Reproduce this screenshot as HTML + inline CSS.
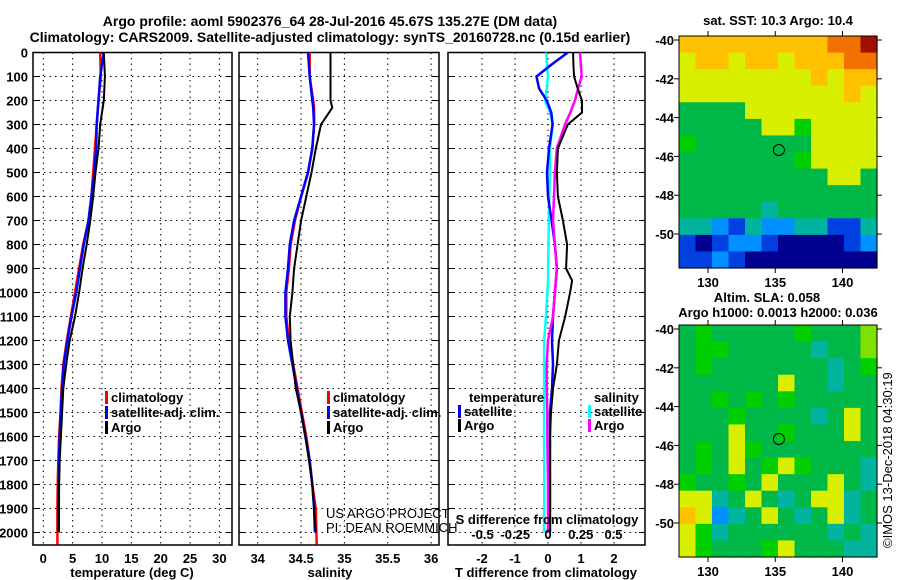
<!DOCTYPE html>
<html><head><meta charset="utf-8">
<style>
body{margin:0;background:#fff;}
svg{display:block;font-family:"Liberation Sans",sans-serif;}
.t{font-weight:bold;font-size:13px;}
.tt{font-weight:bold;font-size:14px;}
</style></head>
<body>
<svg id="c" width="900" height="580" viewBox="0 0 900 580">
<text class="tt" x="330" y="26" text-anchor="middle">Argo profile: aoml 5902376_64 28-Jul-2016 45.67S 135.27E (DM data)</text>
<text class="tt" x="330" y="42" text-anchor="middle">Climatology: CARS2009. Satellite-adjusted climatology: synTS_20160728.nc (0.15d earlier)</text>
<text class="t" x="778" y="25" text-anchor="middle">sat. SST: 10.3 Argo: 10.4</text>
<text class="t" x="767" y="302" text-anchor="middle">Altim. SLA: 0.058</text>
<text class="t" x="778" y="317" text-anchor="middle">Argo h1000: 0.0013 h2000: 0.036</text>
<text x="892" y="548" font-size="13" transform="rotate(-90 892 548)">©IMOS 13-Dec-2018 04:30:19</text>
</svg>
<script>
// ---- data (depths in m) ----
const depthT=[0,100,200,300,400,500,600,700,800,900,1000,1100,1200,1300,1400,1500,1600,1700,1800,1900,2000];
const tempArgo=[10.3,10.5,10.3,9.7,9.4,8.9,8.5,8.0,7.4,6.7,6.1,5.4,4.5,3.9,3.4,3.2,3.0,2.8,2.7,2.67,2.67];
const tempClim=[9.7,9.8,9.4,9.1,8.8,8.5,8.2,7.7,6.8,6.1,5.4,4.7,4.0,3.4,3.1,2.95,2.7,2.55,2.45,2.4,2.4];
const tempSat=[10.3,9.7,9.4,9.1,9.0,8.7,8.2,7.7,6.9,6.25,5.6,4.8,4.1,3.5,3.2,2.95,2.8,2.7,2.62,2.58,2.56];
const depthS=[0,100,200,230,300,400,500,600,700,800,900,1000,1100,1200,1300,1400,1500,1600,1700,1800,1900,2000];
const salArgo=[34.84,34.84,34.84,34.86,34.73,34.67,34.62,34.56,34.5,34.46,34.42,34.40,34.37,34.38,34.41,34.44,34.5,34.55,34.59,34.63,34.65,34.67];
const salClim=[34.6,34.6,34.64,34.65,34.65,34.63,34.58,34.5,34.43,34.38,34.36,34.33,34.33,34.36,34.41,34.46,34.51,34.56,34.6,34.63,34.67,34.68];
const salSat=[34.58,34.6,34.63,34.64,34.65,34.63,34.58,34.5,34.42,34.37,34.35,34.32,34.32,34.35,34.4,34.45,34.5,34.55,34.6,34.63,34.65,34.66];
const depthD=[0,50,100,150,200,250,300,400,500,600,700,800,900,950,1000,1100,1200,1300,1400,1500,1600,1800,2000];
const dTArgo=[0.76,0.77,0.79,0.9,1.03,1.03,0.6,0.3,0.27,0.3,0.45,0.58,0.55,0.73,0.67,0.52,0.33,0.27,0.15,0.09,0.06,0.06,0.06];
const dTSat=[0.6,0.11,-0.35,-0.27,-0.04,0.1,0.14,0.03,-0.03,0.0,0.11,0.21,0.27,0.24,0.21,0.15,0.12,0.15,0.12,0.06,0.06,0.06,0.06];
const dSArgo=[0.244,0.25,0.257,0.23,0.206,0.17,0.13,0.067,0.053,0.046,0.038,0.053,0.067,0.06,0.053,0.038,0.0,-0.01,-0.01,-0.005,-0.005,0.0,0.0];
const dSSat=[-0.015,-0.008,0.0,-0.01,-0.023,0.015,0.036,0.015,0.015,0.01,0.008,0.004,0.0,0.0,-0.005,-0.015,-0.03,-0.03,-0.03,-0.03,-0.03,-0.028,-0.03];
const depthTicks=[0,100,200,300,400,500,600,700,800,900,1000,1100,1200,1300,1400,1500,1600,1700,1800,1900,2000];
const tTicks=[0,5,10,15,20,25,30];
const sTicks=[34,34.5,35,35.5,36];
const sTickLabels=["34","34.5","35","35.5","36"];
const dtTicks=[-2,-1,0,1,2];
const dsTicks=[-0.5,-0.25,0,0.25,0.5];
const sstRows=["OOOOOOOOORRD","YOOYOOYOOORR","YYYYYYYYOYOO","YYYYYYYYYYOY","GGGGYYYYYYYY","GGGGGYYgYYYY","gGGGGGGGYYYY","GGGGGGGgYYYY","GGGGGGGGGYYG","GGGGGGGGGGGG","GGGGGTGGGGGG","TTLBTLLTTBBT","BDBLLBDDDDBL","BBLBDDDDDDDD"];
const slaRows=["GgGGGGGgGGGy","GggGGGGGTGGy","GgGGGGGGGTGg","GGGGGGYGGTGG","GGgGgGgGGGGG","GGGgGGGGTGYG","GGGYGGgGGGYG","GgGYgGGGGGGG","GgGYGgYgGGGT","gGGgGYGGGYGT","YYTGYGTGYYTG","OYLTGYGTGYTG","YgTGGGGGGTGT","YgGGGgYGGGTT"];
const lats=[-40,-42,-44,-46,-48,-50];
const lons=[130,135,140];

const NS="http://www.w3.org/2000/svg";
const svg=document.getElementById('c');
function el(t,a,p){const e=document.createElementNS(NS,t);for(const k in a)e.setAttribute(k,a[k]);(p||svg).appendChild(e);return e;}
const Y0=52.5,PY=0.24,BOT=545;
const yD=d=>Y0+d*PY;
const P1={l:33,r:232},P2={l:239,r:439},P3={l:448,r:645};
const xT=v=>43.3+v*5.87, xS=v=>257.7+(v-34)*86.7, xDT=v=>548+v*33, xDS=v=>548+v*131;

function frame(P,name,xticks,xf,labels,showY){
  const g=el('g',{});
  
  
  depthTicks.forEach(d=>{const y=yD(d);
    if(d>0) el('line',{x1:P.l,x2:P.r,y1:y,y2:y,stroke:'#000','stroke-dasharray':'1.5,4','stroke-width':1},g);
    el('line',{x1:P.l,x2:P.l+6,y1:y,y2:y,stroke:'#000'},g);
    el('line',{x1:P.r-6,x2:P.r,y1:y,y2:y,stroke:'#000'},g);
    if(showY){const t=el('text',{x:28,y:y+5,'text-anchor':'end',class:'t'},g);t.textContent=d;
      
      }
  });
  xticks.forEach((v,i)=>{const x=xf(v);
    el('line',{x1:x,x2:x,y1:Y0,y2:BOT,stroke:'#000','stroke-dasharray':'1.5,4','stroke-width':1},g);
    const t=el('text',{x:x,y:563,'text-anchor':'middle',class:'t'},g);t.textContent=labels[i];
    
    
  });
  el('rect',{x:P.l,y:Y0,width:P.r-P.l,height:BOT-Y0,fill:'none',stroke:'#000','stroke-width':1.5},g);
  return g;
}
function line(xs,ds,xf,color,name,w){
  const pts=xs.map((v,i)=>xf(v).toFixed(1)+','+yD(ds[i]).toFixed(1)).join(' ');
  const p=el('polyline',{points:pts,fill:'none',stroke:color,'stroke-width':w||2.5});
  
  
}
function txt(x,y,s,name,extra){const t=el('text',Object.assign({x:x,y:y,class:'t'},extra||{}));t.textContent=s;
  
  return t;}
function legend(x,y,color,s,name){
  const r=el('rect',{x:x,y:y-11,width:3,height:13,fill:color});
  
  
  txt(x+6,y,s,name);
}
// panel 1
frame(P1,'temperature-panel',tTicks,xT,tTicks.map(String),true);
line(tempClim,depthT.map((d,i)=>i==depthT.length-1?2050:d),xT,'#f00','temp-climatology-line');
line(tempSat,depthT,xT,'#00f','temp-satellite-line');
line(tempArgo,depthT,xT,'#000','temp-argo-line',2);
txt(132,577,'temperature (deg C)','temperature-axis-title',{'text-anchor':'middle'});
legend(105,402,'#f00','climatology','legend-climatology');
legend(105,417,'#00f','satellite-adj. clim.','legend-satellite');
legend(105,432,'#000','Argo','legend-argo');
// panel 2
frame(P2,'salinity-panel',sTicks,xS,sTickLabels,false);
line(salClim,depthS.map((d,i)=>i==depthS.length-1?2050:d),xS,'#f00','sal-climatology-line');
line(salSat,depthS,xS,'#00f','sal-satellite-line');
line(salArgo,depthS,xS,'#000','sal-argo-line',2);
txt(330,577,'salinity','salinity-axis-title',{'text-anchor':'middle'});
legend(327,402,'#f00','climatology','legend-sal-climatology');
legend(327,417,'#00f','satellite-adj. clim.','legend-sal-satellite');
legend(327,432,'#000','Argo','legend-sal-argo');
txt(326,518,'US ARGO PROJECT','us-argo-project',{class:'',style:'font-size:13px'});
txt(326,532,'PI: DEAN ROEMMICH','pi-name',{class:'',style:'font-size:13px'});
// panel 3
frame(P3,'difference-panel',dtTicks,xDT,dtTicks.map(String),false);
line(dSSat,depthD,xDS,'#0ff','sdiff-satellite-line');
line(dTSat,depthD,xDT,'#00f','tdiff-satellite-line');
line(dSArgo,depthD,xDS,'#f0f','sdiff-argo-line');
line(dTArgo,depthD,xDT,'#000','tdiff-argo-line',2);
txt(546,577,'T difference from climatology','tdiff-axis-title',{'text-anchor':'middle'});
txt(547,524,'S difference from climatology','sdiff-axis-title',{'text-anchor':'middle'});
dsTicks.forEach(v=>{txt(xDS(v),539,String(v).replace('0.','0.').replace(/^-0\./,'-0.').replace(/^0\./,'0.'),'sdiff-tick-label',{'text-anchor':'middle'});});
txt(469,402,'temperature','legend-temp-heading');
legend(458,416,'#00f','satellite','legend-tdiff-satellite');
legend(458,430,'#000','Argo','legend-tdiff-argo');
txt(594,402,'salinity','legend-sal-heading');
legend(588,416,'#0ff','satellite','legend-sdiff-satellite');
legend(588,430,'#f0f','Argo','legend-sdiff-argo');
// maps
const cmap={D:'#000090',B:'#0040e0',L:'#0090ff',T:'#00b4a0',G:'#00b848',g:'#00d000',y:'#80e000',Y:'#d8f000',O:'#ffc000',R:'#f07000',X:'#c02000'};
cmap.Rr='#b01000';
function map(rows,top,name,bottomLabels){
  const L=679,R=877,B=top+232,g=el('g',{});
  
  
  const cw=(R-L)/rows[0].length,ch=(B-top)/rows.length;
  rows.forEach((r,i)=>{for(let j=0;j<r.length;j++){let c=r[j];
    el('rect',{x:L+j*cw,y:top+i*ch,width:cw+0.6,height:ch+0.6,fill:c=='D'&&i<2?'#a01000':cmap[c]},g);}});
  el('rect',{x:L,y:top,width:R-L,height:B-top,fill:'none',stroke:'#000'},g);
  const yl=v=>top+4+(-40-v)*19.4;
  lats.forEach(v=>{const y=yl(v);
    el('line',{x1:L-5,x2:L,y1:y,y2:y,stroke:'#000'},g);
    el('line',{x1:R,x2:R+5,y1:y,y2:y,stroke:'#000'},g);
    txt(L-5,y+5,String(v),'lat-tick-label',{'text-anchor':'end'});});
  const xl=v=>708+(v-130)*13.45;
  lons.forEach(v=>{const x=xl(v);
    el('line',{x1:x,x2:x,y1:top-5,y2:top,stroke:'#000'},g);
    el('line',{x1:x,x2:x,y1:B,y2:B+5,stroke:'#000'},g);
    txt(x,B+19,String(v),'lon-tick-label',{'text-anchor':'middle'});});
  const m=el('circle',{cx:xl(135.27),cy:yl(-45.67),r:5.5,fill:'none',stroke:'#000','stroke-width':1},g);
  
  
}
map(sstRows,36,'sst-map');
map(slaRows,325,'sla-map');
</script>
</body></html>
